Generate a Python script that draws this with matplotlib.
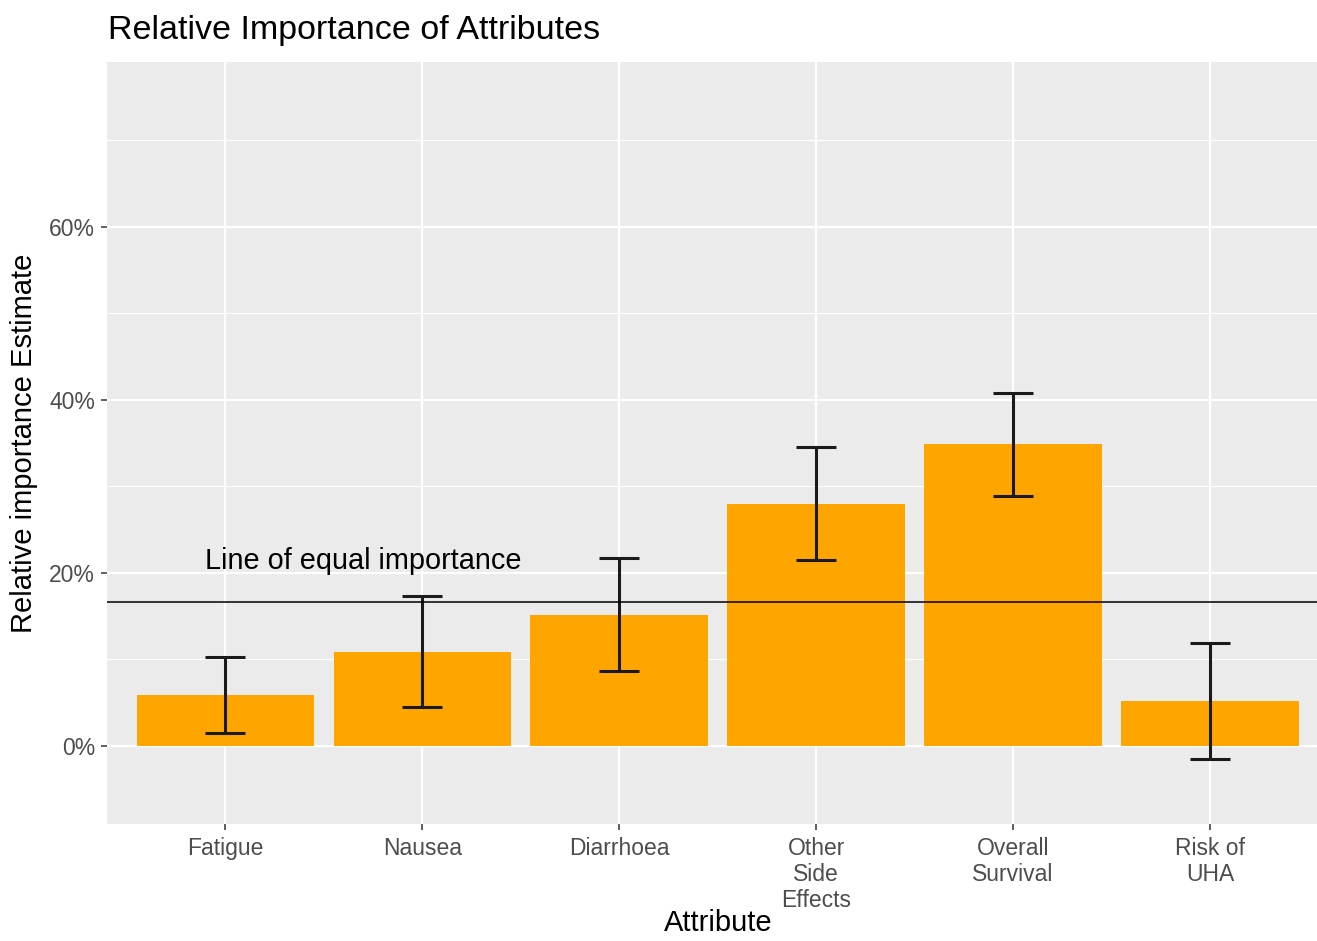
import matplotlib
matplotlib.use("Agg")
import matplotlib.pyplot as plt
import numpy as np
from matplotlib.ticker import FixedLocator, FuncFormatter

plt.rcParams['font.family'] = ['Liberation Sans', 'DejaVu Sans']

# values
attributes = ["Fatigue", "Nausea", "Diarrhoea", "Other\nSide\nEffects", "Overall\nSurvival", "Risk of\nUHA"]
estimate = [0.059, 0.109, 0.151, 0.280, 0.349, 0.052]
lower = [0.015, 0.045, 0.087, 0.215, 0.289, -0.015]
upper = [0.103, 0.173, 0.217, 0.345, 0.408, 0.119]
equal_line = 1 / 6

x = np.arange(len(attributes))
est = np.array(estimate)
yerr = [est - np.array(lower), np.array(upper) - est]

fig = plt.figure(figsize=(13.17, 9.41), dpi=100)
ax = fig.add_axes([107 / 1317, 117 / 941, 1 - 107 / 1317, (824 - 62) / 941])
ax.set_facecolor("#EBEBEB")
for s in ax.spines.values():
    s.set_visible(False)

ax.set_xlim(-0.6, 5.543)
ax.set_ylim(-0.09, 0.79)

# grid
for yv in [0.1, 0.3, 0.5, 0.7]:
    ax.axhline(yv, color="white", lw=0.8, zorder=0)
for yv in [0, 0.2, 0.4, 0.6]:
    ax.axhline(yv, color="white", lw=1.6, zorder=0)
for xv in x:
    ax.axvline(xv, color="white", lw=1.6, zorder=0)

ax.bar(x, est, width=0.9, color="#FFA500", zorder=2)
ax.errorbar(x, est, yerr=yerr, fmt="none", ecolor="#1A1A1A", elinewidth=2.2,
            capsize=14.5, capthick=2.2, zorder=3)
ax.axhline(equal_line, color="black", lw=1.1, zorder=4)
ax.text(0.7, 0.214, "Line of equal importance", ha="center", va="center",
        fontsize=20.8, color="black", zorder=5)

ax.xaxis.set_major_locator(FixedLocator(x))
ax.set_xticklabels(attributes, fontsize=16.5, color="#4D4D4D", linespacing=1.15)
ax.yaxis.set_major_locator(FixedLocator([0, 0.2, 0.4, 0.6]))
ax.yaxis.set_major_formatter(FuncFormatter(lambda v, p: f"{v * 100:.0f}%"))
ax.tick_params(axis="y", labelsize=16.5, labelcolor="#4D4D4D", color="#333333",
               length=4.5, width=1.1, pad=4)
ax.tick_params(axis="x", color="#333333", length=4.5, width=1.1, pad=5)

ax.set_xlabel("Attribute", fontsize=21, color="black")
ax.xaxis.set_label_coords(0.505, -0.1485)
ax.xaxis.label.set_va("bottom")
ax.set_ylabel("Relative importance Estimate", fontsize=21, color="black", labelpad=8)
fig.text(108 / 1317, 1 - 31 / 941, "Relative Importance of Attributes", fontsize=24.5,
         ha="left", va="center", color="black")

fig.savefig("out.png", dpi=100)
